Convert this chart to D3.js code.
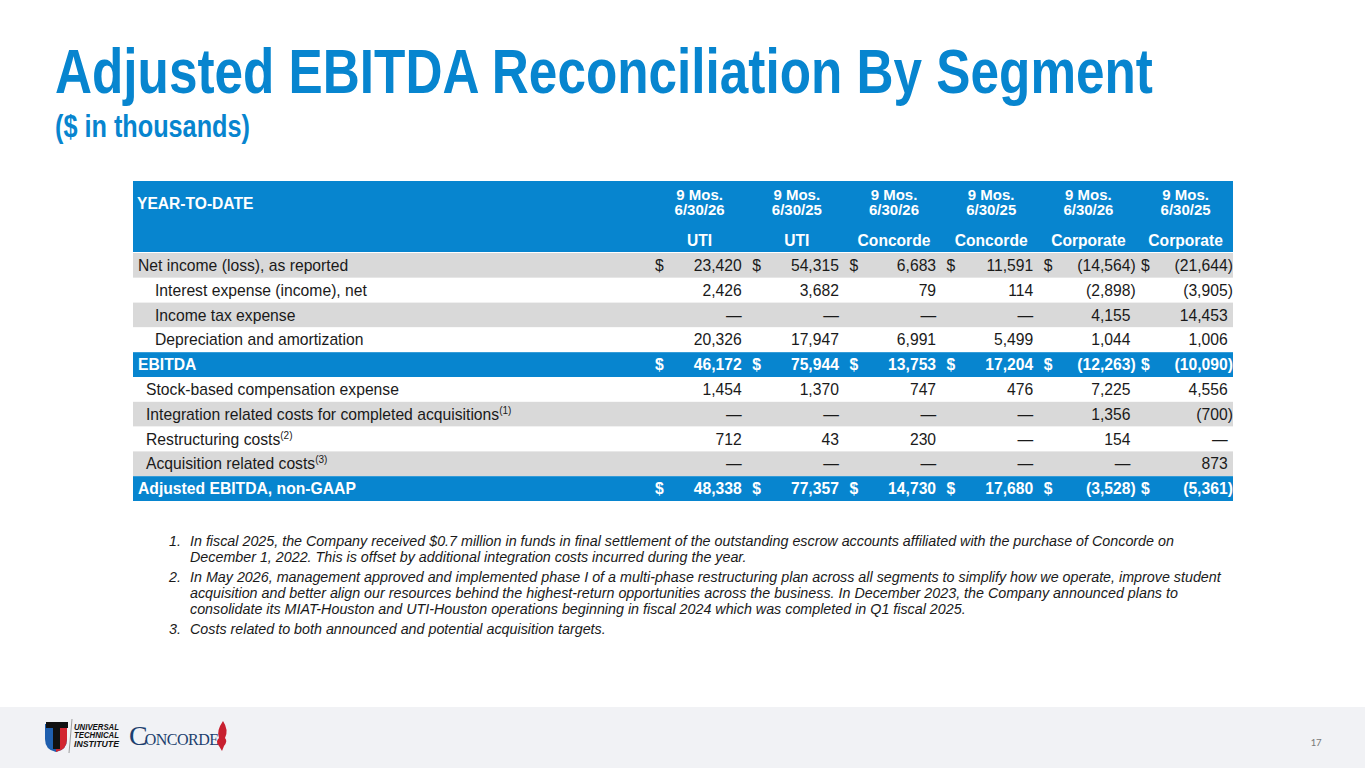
<!DOCTYPE html>
<html><head><meta charset="utf-8">
<script src="https://cdn.jsdelivr.net/npm/d3@7/dist/d3.min.js"></script>
<style>
html,body{margin:0;padding:0;background:#fff;}
svg{display:block;}
text{font-family:"Liberation Sans",Arial,sans-serif;}
</style></head>
<body>
<svg id="c" width="1365" height="768"></svg>
<script>
const titleText = "Adjusted EBITDA Reconciliation By Segment";
const subtitleText = "($ in thousands)";
const periodLabels = ["9 Mos.","9 Mos.","9 Mos.","9 Mos.","9 Mos.","9 Mos."];
const dateLabels = ["6/30/26","6/30/25","6/30/26","6/30/25","6/30/26","6/30/25"];
const segmentLabels = ["UTI","UTI","Concorde","Concorde","Corporate","Corporate"];
const rowLabels = [
  "Net income (loss), as reported",
  "Interest expense (income), net",
  "Income tax expense",
  "Depreciation and amortization",
  "EBITDA",
  "Stock-based compensation expense",
  "Integration related costs for completed acquisitions",
  "Restructuring costs",
  "Acquisition related costs",
  "Adjusted EBITDA, non-GAAP"
];
const rowNotes = [null,null,null,null,null,null,"(1)","(2)","(3)",null];
const rowIndent = [0,2,2,2,0,1,1,1,1,0];
const rowType = ["gray","white","gray","white","total","white","gray","white","gray","total"];
const rowDollar = [true,false,false,false,true,false,false,false,false,true];
const netIncome      = [23420, 54315, 6683, 11591, -14564, -21644];
const interestExp    = [2426, 3682, 79, 114, -2898, -3905];
const incomeTax      = [null, null, null, null, 4155, 14453];
const deprAmort      = [20326, 17947, 6991, 5499, 1044, 1006];
const ebitda         = [46172, 75944, 13753, 17204, -12263, -10090];
const stockComp      = [1454, 1370, 747, 476, 7225, 4556];
const integration    = [null, null, null, null, 1356, -700];
const restructuring  = [712, 43, 230, null, 154, null];
const acquisition    = [null, null, null, null, null, 873];
const adjEbitda      = [48338, 77357, 14730, 17680, -3528, -5361];
const rowValues = [netIncome, interestExp, incomeTax, deprAmort, ebitda, stockComp, integration, restructuring, acquisition, adjEbitda];
const footnotes = [
  ["In fiscal 2025, the Company received $0.7 million in funds in final settlement of the outstanding escrow accounts affiliated with the purchase of Concorde on",
   "December 1, 2022. This is offset by additional integration costs incurred during the year."],
  ["In May 2026, management approved and implemented phase I of a multi-phase restructuring plan across all segments to simplify how we operate, improve student",
   "acquisition and better align our resources behind the highest-return opportunities across the business. In December 2023, the Company announced plans to",
   "consolidate its MIAT-Houston and UTI-Houston operations beginning in fiscal 2024 which was completed in Q1 fiscal 2025."],
  ["Costs related to both announced and potential acquisition targets."]
];
const pageNumber = "17";

const BLUE = "#0785cf", GRAY = "#d9d9d9";
const svg = d3.select("#c");
const fmt = d3.format(",");

// Title (horizontally scaled to the reference width)
const narrow = '"Liberation Sans Narrow","Arial Narrow","Liberation Sans",Arial,sans-serif';
function scaledText(x0, y0, str, size, target){
  const g = svg.append("g");
  const tx = g.append("text").attr("x",0).attr("y",0).text(str)
    .attr("fill",BLUE).attr("font-size",size).attr("font-weight","bold").style("font-family",narrow);
  const w = tx.node().getComputedTextLength();
  const sx = w > 0 ? target / w : 1;
  g.attr("transform",`translate(${x0},${y0}) scale(${sx},1)`);
}
scaledText(55, 93, titleText, 63, 1098);
scaledText(55, 137, subtitleText, 32, 195);

// Table geometry
const tableX0 = 133, tableX1 = 1233;
const x = d3.scaleBand().domain(d3.range(6)).range([648, 1231.2]).paddingInner(0);
const bw = x.bandwidth();
const headTop = 181, headBot = 252;
const y = d3.scaleBand().domain(d3.range(rowLabels.length)).range([253, 501]);
const FS = 15.7, HFS = 15;

// header
svg.append("rect").attr("x",tableX0).attr("y",headTop).attr("width",tableX1-tableX0).attr("height",headBot-headTop).attr("fill",BLUE);
svg.append("text").attr("x",137).attr("y",209).text("YEAR-TO-DATE").attr("fill","#fff").attr("font-size",15.6).attr("font-weight","bold");
const hc = svg.append("g").selectAll("g").data(d3.range(6)).join("g")
  .attr("transform", i => `translate(${x(i)+bw/2+3},0)`);
hc.append("text").attr("y",200).attr("text-anchor","middle").text(i=>periodLabels[i]).attr("fill","#fff").attr("font-size",HFS).attr("font-weight","bold");
hc.append("text").attr("y",215).attr("text-anchor","middle").text(i=>dateLabels[i]).attr("fill","#fff").attr("font-size",HFS).attr("font-weight","bold");
hc.append("text").attr("y",246).attr("text-anchor","middle").text(i=>segmentLabels[i]).attr("fill","#fff").attr("font-size",15.6).attr("font-weight","bold");

// rows
const rows = svg.append("g").selectAll("g").data(rowLabels).join("g")
  .attr("transform",(d,i)=>`translate(0,${y(i)})`);
rows.append("rect").attr("x",tableX0).attr("width",tableX1-tableX0).attr("height",y.bandwidth())
  .attr("fill",(d,i)=> rowType[i]==="gray"?GRAY : rowType[i]==="total"?BLUE:"#fff");
const indentX = [138,146,155];
rows.each(function(d,i){
  const g = d3.select(this);
  const col = rowType[i]==="total"?"#fff":"#1a1a1a";
  const fw = rowType[i]==="total"?"bold":"normal";
  const by = y.bandwidth()/2+5.6;
  const lab = g.append("text").attr("x",indentX[rowIndent[i]]).attr("y",by)
    .attr("font-size",FS).attr("font-weight",fw).attr("fill",col);
  lab.append("tspan").text(d);
  if (rowNotes[i]) lab.append("tspan").attr("font-size",10).attr("dy",-6).text(rowNotes[i]);
  rowValues[i].forEach((v,j)=>{
    const right = x(j)+bw-3.5;
    if(rowDollar[i]){
      g.append("text").attr("x",x(j)+7).attr("y",by).text("$").attr("font-size",FS).attr("font-weight",fw).attr("fill",col);
    }
    let s, xr = right;
    if(v===null){ s="—"; }
    else if(v<0){ s="("+fmt(-v)+")"; xr = right+5.2; }
    else s=fmt(v);
    g.append("text").attr("x",xr).attr("y",by).attr("text-anchor","end").text(s)
      .attr("font-size",FS).attr("font-weight",fw).attr("fill",col);
  });
});

// footnotes
const fnLines = [];
footnotes.forEach((lines,k)=>{ lines.forEach((l,m)=>fnLines.push({num:m===0?(k+1)+".":null,text:l,k})); });
let fy = 546;
const fg = svg.append("g").attr("font-size",14.3).attr("font-style","italic").attr("fill","#1a1a1a");
fnLines.forEach((f,idx)=>{
  if(idx>0){ fy += (f.num? 20:16); }
  if(f.num) fg.append("text").attr("x",169).attr("y",fy).text(f.num);
  fg.append("text").attr("x",190).attr("y",fy).text(f.text);
});

// footer
svg.append("rect").attr("x",0).attr("y",707).attr("width",1365).attr("height",61).attr("fill","#f1f2f5");
svg.append("text").attr("x",1316).attr("y",746).attr("text-anchor","middle").text(pageNumber)
  .attr("font-size",11).attr("fill","#7a7a7a").style("font-family","Carlito,Calibri,'Liberation Sans',sans-serif");

// UTI logo (approximation)
const lg = svg.append("g");
lg.append("path").attr("d","M45,724 L67,724 L67,739 Q67,750 56,752 Q45,750 45,739 Z").attr("fill","#1f5fae");
lg.append("path").attr("d","M56,724 L67,724 L67,739 Q67,750 56,752 Z").attr("fill","#d22630");
lg.append("path").attr("d","M46,722 L68,722 L68,728 L60,728 L60,749 L53,749 L53,728 L46,728 Z").attr("fill","#111");
lg.append("line").attr("x1",72).attr("y1",719).attr("x2",69).attr("y2",753).attr("stroke","#888").attr("stroke-width",0.8);
const ut = lg.append("g").attr("font-size",9).attr("font-weight","bold").attr("font-style","italic").attr("fill","#111");
["UNIVERSAL","TECHNICAL","INSTITUTE"].forEach((w,i)=>{
  ut.append("text").attr("x",74).attr("y",729.5+i*8.7).text(w).attr("textLength",45).attr("lengthAdjust","spacingAndGlyphs");
});
const cc = lg.append("text").attr("x",129).attr("y",745).attr("fill","#1d3f6e").style("font-family","'Liberation Serif','DejaVu Serif',serif");
cc.append("tspan").attr("font-size",28).text("C");
cc.append("tspan").attr("font-size",16).attr("dx",-3).attr("letter-spacing",-0.5).text("ONCORDE");
lg.append("path").attr("d","M223,721 Q216,731 219,738 Q215,741 219,746 L222,751 L224,746 Q228,741 225,738 Q229,730 223,721 Z").attr("fill","#c8202f");
</script>
</body></html>
